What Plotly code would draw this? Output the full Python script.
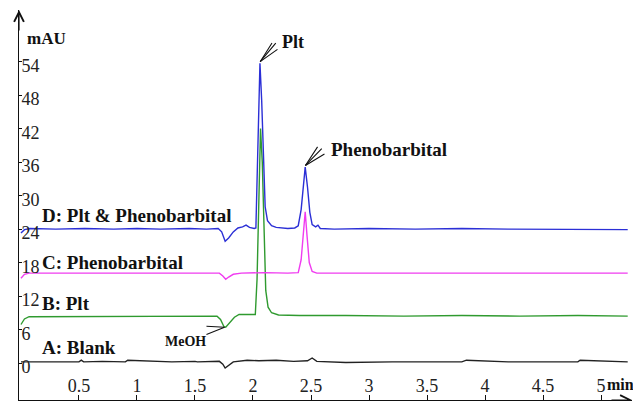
import plotly.graph_objects as go

# ---- data ----
t_D = [0.0, 0.03, 0.08, 0.3, 0.55, 0.8, 1.0, 1.2, 1.45, 1.6, 1.70, 1.73, 1.76, 1.79, 1.83, 1.87, 1.91, 1.94, 1.97, 2.01,
       2.025, 2.04, 2.05, 2.06, 2.075, 2.09, 2.105, 2.125, 2.16, 2.2, 2.3, 2.36, 2.39, 2.415, 2.435, 2.45, 2.47, 2.49, 2.51, 2.54,
       2.56, 2.58, 2.7, 3.0, 3.4, 3.8, 4.2, 4.6, 5.0, 5.23]
v_D = [23.3, 23.9, 24.1, 24.0, 24.1, 24.0, 24.1, 24.0, 24.1, 24.0, 24.1, 23.5, 21.8, 22.4, 23.5, 24.2, 24.4, 24.7, 24.3, 24.1,
       24.2, 35, 46, 53.7, 47, 35, 28, 25.5, 24.6, 24.3, 24.1, 24.2, 24.6, 27.5, 32.5, 35.1, 31.5, 27, 24.8, 24.4,
       24.7, 24.1, 24.0, 24.1, 24.0, 24.1, 24.0, 24.0, 24.0, 23.9]

t_C = [0.0, 0.03, 0.07, 0.4, 0.8, 1.2, 1.5, 1.71, 1.74, 1.765, 1.79, 1.83, 1.9, 2.1, 2.3, 2.39, 2.415, 2.435, 2.45, 2.465,
       2.485, 2.51, 2.55, 2.8, 3.3, 3.8, 4.3, 4.8, 5.23]
v_C = [15.2, 15.9, 16.1, 16.1, 16.2, 16.1, 16.1, 16.1, 15.6, 15.0, 15.4, 15.9, 16.1, 16.2, 16.1, 16.2, 18.5, 23.5, 27.1, 23.0,
       18.0, 16.4, 16.1, 16.1, 16.1, 16.2, 16.1, 16.1, 16.1]

t_B = [0.0, 0.03, 0.07, 0.4, 0.8, 1.2, 1.5, 1.69, 1.72, 1.75, 1.765, 1.8, 1.84, 1.88, 1.95, 2.02, 2.035, 2.05, 2.065, 2.08,
       2.095, 2.11, 2.13, 2.16, 2.22, 2.4, 2.8, 3.3, 3.8, 4.3, 4.8, 5.23]
v_B = [6.9, 7.9, 8.3, 8.3, 8.4, 8.3, 8.3, 8.4, 7.8, 6.5, 6.4, 7.3, 8.2, 8.7, 8.7, 8.7, 15, 32, 42.0, 36,
       22, 13, 10, 9.0, 8.6, 8.5, 8.5, 8.4, 8.5, 8.4, 8.5, 8.4]

t_A = [0.0, 0.3, 0.5, 0.52, 0.54, 0.7, 0.9, 0.92, 1.1, 1.3, 1.5, 1.52, 1.71, 1.74, 1.76, 1.79, 1.83, 1.95, 2.05, 2.2,
       2.35, 2.47, 2.51, 2.55, 2.7, 2.78, 2.8, 3.2, 3.8, 3.84, 4.2, 4.5, 4.8, 4.82, 5.23]
v_A = [0.2, 0.2, 0.2, 0.5, 0.2, 0.3, 0.2, 0.5, 0.3, 0.2, 0.3, 0.2, 0.3, -0.2, -0.9, -0.4, 0.2, 0.5, 0.4, 0.5,
       0.3, 0.4, 0.9, 0.3, 0.2, 0.2, 0.1, 0.2, 0.2, 0.5, 0.2, 0.2, 0.2, 0.5, 0.2]

y_ticks = [0, 6, 12, 18, 24, 30, 36, 42, 48, 54]
x_ticks = [0.5, 1, 1.5, 2, 2.5, 3, 3.5, 4, 4.5, 5]
x_tick_text = ["0.5", "1", "1.5", "2", "2.5", "3", "3.5", "4", "4.5", "5"]

trace_labels = ["A: Blank", "B: Plt", "C: Phenobarbital", "D: Plt & Phenobarbital"]
label_y = [2.7, 10.75, 18.1, 26.5]

SERIF = "Liberation Serif, Times New Roman, serif"

fig = go.Figure()
for t, v, c in [(t_A, v_A, "#222222"), (t_B, v_B, "#2f9a2f"), (t_C, v_C, "#f03cf0"), (t_D, v_D, "#2b2fd6")]:
    fig.add_trace(go.Scatter(x=t, y=v, mode="lines", line=dict(color=c, width=1.4), showlegend=False, hoverinfo="skip"))

ann = []
for txt, yy in zip(trace_labels, label_y):
    ann.append(dict(x=0.16, y=yy, xref="x", yref="y", text="<b>" + txt + "</b>", showarrow=False, xanchor="left",
                    yanchor="middle", font=dict(family=SERIF, size=19, color="#111111")))
ann.append(dict(x=0.034, y=58.1, xref="x", yref="y", text="<b>mAU</b>", showarrow=False, xanchor="left",
                yanchor="middle", font=dict(family=SERIF, size=17, color="#111111")))
ann.append(dict(x=5.03, y=-3.8, xref="x", yref="y", text="<b>min</b>", showarrow=False, xanchor="left",
                yanchor="middle", font=dict(family=SERIF, size=16, color="#111111")))
# peak labels
ann.append(dict(x=2.233, y=57.6, xref="x", yref="y", text="<b>Plt</b>", showarrow=False, xanchor="left",
                yanchor="middle", font=dict(family=SERIF, size=18, color="#111111")))
ann.append(dict(x=2.655, y=38.2, xref="x", yref="y", text="<b>Phenobarbital</b>", showarrow=False, xanchor="left",
                yanchor="middle", font=dict(family=SERIF, size=19, color="#111111")))
ann.append(dict(x=1.22, y=3.8, xref="x", yref="y", text="<b>MeOH</b>", showarrow=False, xanchor="left",
                yanchor="middle", font=dict(family=SERIF, size=14, color="#111111")))
# fans
for hx, hy, tails in [(2.062, 54.0, [(2.172, 57.6), (2.207, 57.6), (2.224, 56.4)]),
                      (2.452, 35.4, [(2.565, 39.0), (2.605, 38.7), (2.629, 37.6)]),
                      (1.755, 6.4, [(1.586, 6.6), (1.586, 5.0)])]:
    for ax_, ay_ in tails:
        ann.append(dict(x=hx, y=hy, xref="x", yref="y", ax=ax_, ay=ay_, axref="x", ayref="y", text="",
                        showarrow=True, arrowhead=0, arrowwidth=1.1, arrowcolor="#111111", standoff=0,
                        startstandoff=0))
# axis arrows
ann.append(dict(x=0, y=1, xref="paper", yref="paper", ax=0, ay=22, text="", showarrow=True, arrowhead=5,
                arrowsize=1.6, arrowwidth=1.2, arrowcolor="#111111", standoff=0))
ann.append(dict(x=1, y=0, xref="paper", yref="paper", ax=-22, ay=0, text="", showarrow=True, arrowhead=5,
                arrowsize=1.6, arrowwidth=1.2, arrowcolor="#111111", standoff=0))

# the page body adds an 8px offset; keep the figure inside the 641x409 window
fig.update_layout(
    width=625, height=393,
    margin=dict(l=11, r=1, t=2, b=1, autoexpand=False),
    paper_bgcolor="white", plot_bgcolor="white",
    annotations=ann,
    xaxis=dict(range=[-0.017, 5.267], showgrid=False, zeroline=False, showline=True, linecolor="#111111",
               linewidth=1.2, ticks="inside", ticklen=5, tickcolor="#111111", tickvals=x_ticks,
               ticktext=x_tick_text, ticklabelposition="inside", automargin=False,
               tickfont=dict(family=SERIF, size=18, color="#222222")),
    yaxis=dict(range=[-6.63, 63.26], showgrid=False, zeroline=False, showline=True, linecolor="#111111",
               linewidth=1.2, ticks="inside", ticklen=3, tickcolor="#111111", tickvals=y_ticks,
               ticklabelposition="inside", ticklabelshift=4, ticklabelstandoff=0, automargin=False,
               tickfont=dict(family=SERIF, size=18, color="#222222")),
)
fig.write_html("out.html")
